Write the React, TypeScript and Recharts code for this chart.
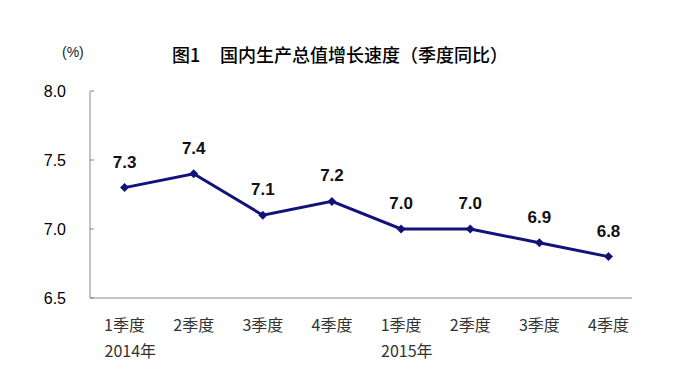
import React from "react";
import { LineChart, Line, XAxis, YAxis, LabelList } from "recharts";

const quarters = ["1季度", "2季度", "3季度", "4季度", "1季度", "2季度", "3季度", "4季度"];
const years = ["2014年", "", "", "", "2015年", "", "", ""];
const growth = [7.3, 7.4, 7.1, 7.2, 7.0, 7.0, 6.9, 6.8];
const yTicks = [6.5, 7.0, 7.5, 8.0];
const bandEdges = [0, 1, 2, 3, 4, 5, 6, 7];
const labelTicks = [0.5, 1.5, 2.5, 3.5, 4.5, 5.5, 6.5, 7.5];
const minorTicks = Array.from({ length: 63 }, (_, i) => i / 8);
const xDomain = [0, 7.84];

const data = growth.map((v, i) => ({ pos: i + 0.5, value: v, q: quarters[i] }));

const cjk = '"Noto Sans CJK SC", sans-serif';
const latin = '"Liberation Sans", Arial, sans-serif';

const Diamond = ({ cx, cy }: any) => {
  if (cx == null || cy == null) return null;
  const r = 4.5;
  return (
    <polygon
      points={`${cx},${cy - r} ${cx + r},${cy} ${cx},${cy + r} ${cx - r},${cy}`}
      fill="#12127a"
    />
  );
};

const QuarterTick = ({ x, y, index }: any) => {
  return (
    <g>
      <text x={x} y={y + 31} textAnchor="middle" fontSize={16} fill="#333" fontFamily={cjk}>
        {quarters[index]}
      </text>
      {years[index] && (
        <text x={x - 20} y={y + 57} textAnchor="start" fontSize={16} fill="#333" fontFamily={cjk}>
          {years[index]}
        </text>
      )}
    </g>
  );
};

export default function App() {
  return (
    <div style={{ position: "absolute", left: 0, top: 0, width: 700, height: 392, background: "#fff" }}>
      <div style={{ position: "absolute", left: 62, top: 44, fontSize: 14, fontFamily: latin, color: "#222" }}>
        (%)
      </div>
      <div style={{ position: "absolute", left: 172, top: 41, fontSize: 18, fontFamily: cjk, color: "#000", fontWeight: 500, whiteSpace: "pre" }}>
        图1
      </div>
      <div style={{ position: "absolute", left: 220, top: 41, fontSize: 18, fontFamily: cjk, color: "#000", fontWeight: 500, whiteSpace: "pre" }}>
        国内生产总值增长速度（季度同比）
      </div>
      <LineChart
        width={700}
        height={392}
        data={data}
        margin={{ top: 91, right: 68, bottom: 32, left: 0 }}
      >
        <XAxis
          xAxisId="a_main"
          type="number"
          dataKey="pos"
          domain={xDomain}
          allowDataOverflow
          ticks={bandEdges}
          interval={0}
          tick={false}
          tickSize={-4}
          height={1}
          stroke="#888"
          tickLine={{ stroke: "#888" }}
        />
        <XAxis
          xAxisId="b_minor"
          type="number"
          dataKey="pos"
          domain={xDomain}
          allowDataOverflow
          ticks={minorTicks}
          interval={0}
          tick={false}
          tickSize={2}
          height={1}
          axisLine={false}
          tickLine={{ stroke: "#aaa" }}
        />
        <XAxis
          xAxisId="c_labels"
          type="number"
          dataKey="pos"
          domain={xDomain}
          allowDataOverflow
          ticks={labelTicks}
          interval={0}
          height={60}
          tickSize={0}
          tickMargin={0}
          axisLine={false}
          tickLine={false}
          tick={<QuarterTick />}
        />
        <YAxis
          domain={[6.5, 8]}
          ticks={yTicks}
          interval={0}
          width={90}
          tickSize={-4}
          tickMargin={28}
          stroke="#888"
          tickFormatter={(v: number) => v.toFixed(1)}
          tick={{ fontSize: 16, fill: "#000", fontFamily: latin }}
        />
        <Line
          xAxisId="a_main"
          dataKey="value"
          stroke="#12127a"
          strokeWidth={3}
          dot={<Diamond />}
          activeDot={false}
          isAnimationActive={false}
        >
          <LabelList
            dataKey="value"
            position="top"
            offset={20}
            formatter={(v: any) => Number(v).toFixed(1)}
            style={{ fontSize: 17, fill: "#111", fontFamily: latin, fontWeight: 600 }}
          />
        </Line>
      </LineChart>
    </div>
  );
}
